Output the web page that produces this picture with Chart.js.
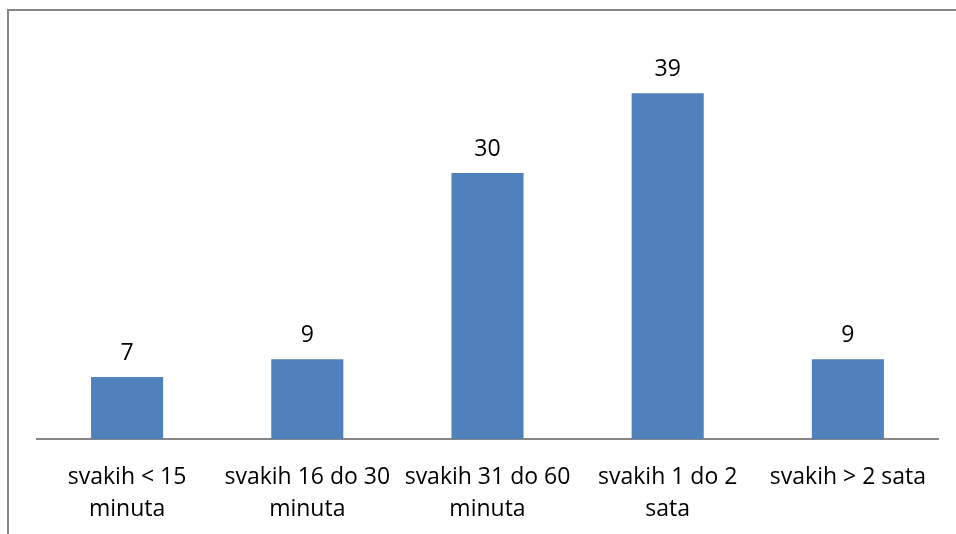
<!DOCTYPE html>
<html>
<head>
<meta charset="utf-8">
<script src="https://cdn.jsdelivr.net/npm/chart.js@4"></script>
<style>
  html, body { margin: 0; padding: 0; background: #fff; }
  #wrap { position: relative; width: 956px; height: 534px; overflow: hidden; }
  #frame { position: absolute; left: 7px; top: 9px; width: 960px; height: 540px;
           border-top: 2px solid #868686; border-left: 2px solid #868686; }
  canvas { position: absolute; left: 0; top: 0; }
</style>
</head>
<body>
<div id="wrap">
  <div id="frame"></div>
  <canvas id="chart" width="956" height="534"></canvas>
</div>
<script>
// Categories (two-line tick labels) and values
const categories = [
  ['svakih < 15', 'minuta'],
  ['svakih 16 do 30', 'minuta'],
  ['svakih 31 do 60', 'minuta'],
  ['svakih 1 do 2', 'sata'],
  ['svakih > 2 sata']
];
const values = [7, 9, 30, 39, 9];

// Value labels drawn above each bar
const valueLabels = {
  id: 'valueLabels',
  afterDatasetsDraw(chart) {
    const ctx = chart.ctx;
    const meta = chart.getDatasetMeta(0);
    ctx.save();
    ctx.font = '23px "Open Sans"';
    ctx.fillStyle = '#000';
    ctx.textAlign = 'center';
    ctx.textBaseline = 'alphabetic';
    meta.data.forEach((bar, i) => {
      ctx.fillText(String(values[i]), bar.x, bar.y - 17);
    });
    ctx.restore();
  }
};

new Chart(document.getElementById('chart').getContext('2d'), {
  type: 'bar',
  data: {
    labels: categories,
    datasets: [{
      data: values,
      backgroundColor: '#4F81BD',
      borderWidth: 0,
      barPercentage: 0.4,
      categoryPercentage: 1
    }]
  },
  options: {
    responsive: false,
    animation: false,
    layout: { padding: { left: 37, right: 18, top: 40, bottom: -13 } },
    plugins: {
      legend: { display: false },
      tooltip: { enabled: false }
    },
    scales: {
      x: {
        grid: { display: false, drawTicks: false },
        border: { color: '#868686', width: 2 },
        ticks: {
          color: '#000',
          font: { family: 'Open Sans', size: 23, lineHeight: 1.39 },
          padding: 22,
          maxRotation: 0,
          autoSkip: false
        }
      },
      y: {
        display: false,
        min: 0,
        max: 45
      }
    }
  },
  plugins: [valueLabels]
});
</script>
</body>
</html>
